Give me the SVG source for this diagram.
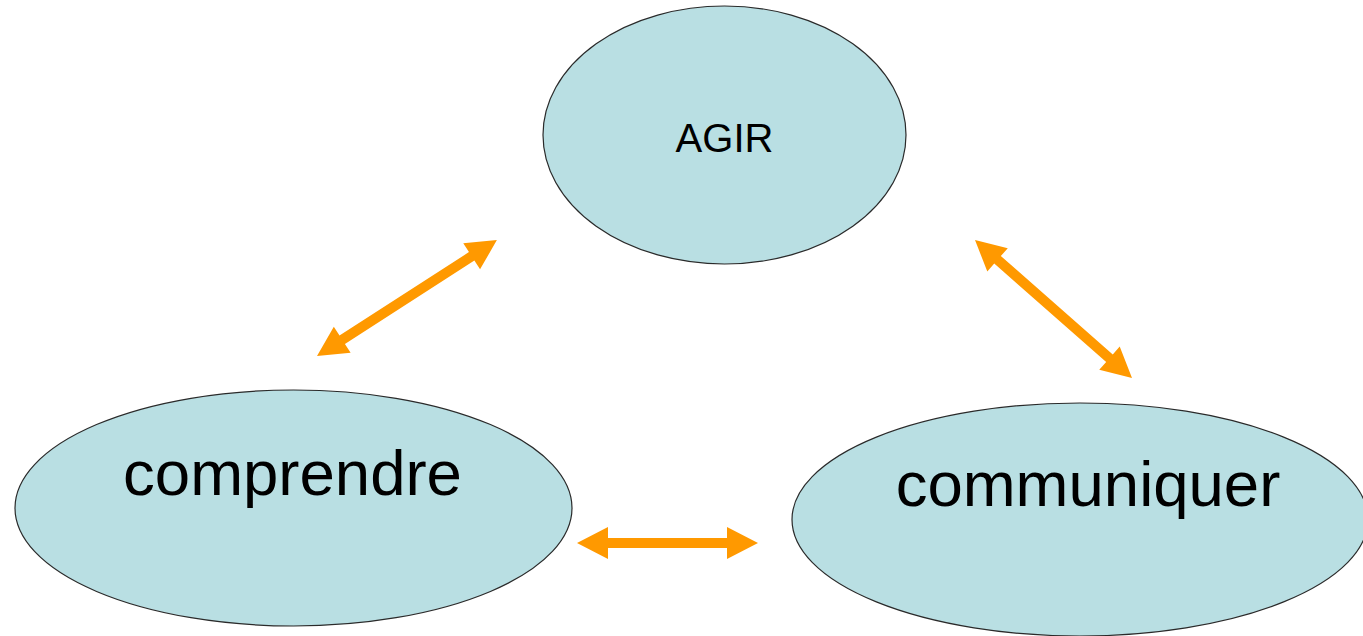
<svg xmlns="http://www.w3.org/2000/svg" width="1363" height="636" viewBox="0 0 1363 636">
  <style>
    .node { fill: #b9dfe3; stroke: #2a2a2a; stroke-width: 1.2; }
    .lbl { font-family: "Liberation Sans", Arial, sans-serif; fill: #000; text-anchor: middle; }
    .arrow { fill: #ff9900; }
  </style>
  <rect width="1363" height="636" fill="#ffffff"/>
  <g id="node-agir">
    <ellipse class="node" cx="724.5" cy="135" rx="181.5" ry="129"/>
    <text class="lbl" x="724.5" y="152" font-size="40">AGIR</text>
  </g>
  <g id="node-comprendre">
    <ellipse class="node" cx="293.5" cy="508" rx="278.5" ry="118"/>
    <text class="lbl" x="292.5" y="495" font-size="63.5">comprendre</text>
  </g>
  <g id="node-communiquer">
    <ellipse class="node" cx="1080" cy="519.5" rx="288" ry="116.5"/>
    <text class="lbl" x="1088" y="506" font-size="63.5">communiquer</text>
  </g>
  <g id="connectors">
    <polygon class="arrow" transform="translate(317,356) rotate(-32.8)" points="0,0 30,-15.5 30,-5 184,-5 184,-15.5 214,0 184,15.5 184,5 30,5 30,15.5"/>
    <polygon class="arrow" transform="translate(975,240) rotate(41.3)" points="0,0 30,-15.5 30,-5 179,-5 179,-15.5 209,0 179,15.5 179,5 30,5 30,15.5"/>
    <polygon class="arrow" transform="translate(577,543)" points="0,0 31,-16 31,-5 150,-5 150,-16 181,0 150,16 150,5 31,5 31,16"/>
  </g>
</svg>
